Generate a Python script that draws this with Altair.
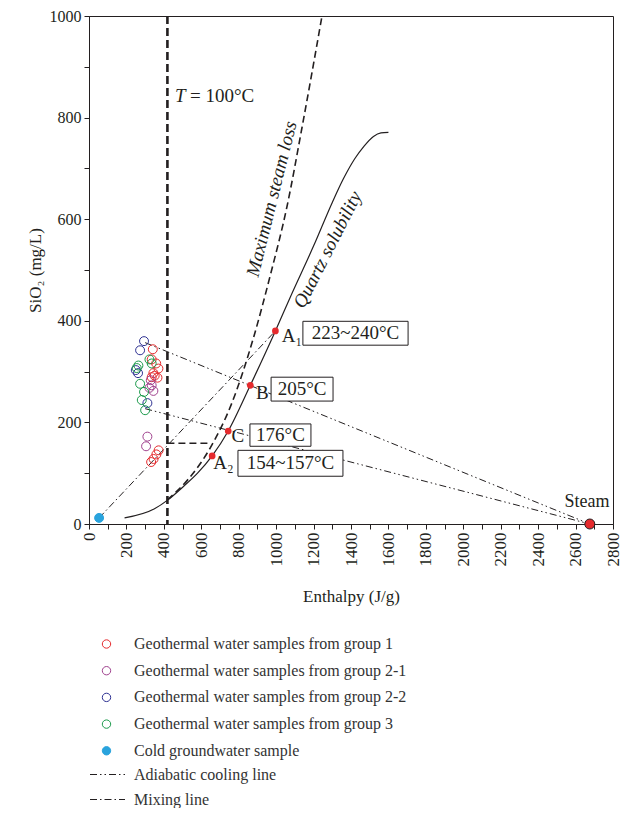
import altair as alt
import pandas as pd

SERIF = "Liberation Serif"
INK = "#231f20"

# ---------------- data ----------------
groups = [
    "Geothermal water samples from group 1",
    "Geothermal water samples from group 2-1",
    "Geothermal water samples from group 2-2",
    "Geothermal water samples from group 3",
    "Cold groundwater sample",
]
stroke_colors = ["#e52a2d", "#a0428e", "#2e3192", "#1b9a4b", "#29a3dd"]
fill_colors = ["transparent", "transparent", "transparent", "transparent", "#29a3dd"]

g1_H = [341, 335, 359, 371, 344, 366, 335, 351, 372, 360, 345, 332]
g1_S = [344, 324, 316, 306, 297, 288, 289, 292, 145, 137, 128, 122]
g21_H = [335, 344, 323, 330, 312, 305]
g21_S = [273, 262, 268, 283, 172, 153]
g22_H = [294, 273, 250, 262, 312]
g22_S = [360, 342, 303, 297, 238]
g3_H = [323, 264, 255, 273, 294, 282, 300, 335]
g3_S = [324, 312, 307, 276, 260, 244, 224, 316]
cold_H = [54]
cold_S = [12]

# quartz solubility curve
quartz_H = [190, 350, 420, 496, 580, 658, 744, 862, 996, 1076, 1201, 1300, 1360, 1420, 1470, 1520, 1560, 1600]
quartz_S = [12, 30, 47, 71, 100, 134, 183, 273, 380, 447, 548, 633, 680, 719, 744, 763, 770, 771]

# maximum steam loss curve
msl_H = [419, 530, 648, 760, 880, 969, 1058, 1138, 1245]
msl_S = [48, 88, 150, 235, 368, 490, 625, 780, 1000]

# horizontal dashed line at T = 100 °C
hdash_H = [419, 650]
hdash_S = [159, 159]

# mixing / adiabatic cooling lines
seg_id = ["m", "m", "a1", "a1", "a2", "a2"]
seg_kind = ["Mixing line", "Mixing line",
            "Adiabatic cooling line", "Adiabatic cooling line",
            "Adiabatic cooling line", "Adiabatic cooling line"]
seg_H = [54, 996, 300, 2676, 300, 2676]
seg_S = [12, 380, 357, 0, 227, 0]

# intersection points
key_H = [996, 862, 744, 658]
key_S = [380, 273, 183, 134]
key_lab = ["A₁", "B", "C", "A₂"]
keylab_H = [1030, 892, 762, 664]
keylab_S = [371, 258, 174, 120]

# temperature boxes
box_text = ["223~240°C", "205°C", "176°C", "154~157°C"]
box_H0 = [1143, 973, 860, 796]
box_H1 = [1705, 1304, 1186, 1357]
box_S0 = [352, 242, 153, 94]
box_S1 = [399, 289, 197, 145]

steam_H = [2676]
steam_S = [0]
T100 = [419]

# ---------------- frames ----------------
samples = pd.DataFrame({
    "H": g1_H + g21_H + g22_H + g3_H + cold_H,
    "S": g1_S + g21_S + g22_S + g3_S + cold_S,
    "group": [groups[0]] * len(g1_H) + [groups[1]] * len(g21_H) + [groups[2]] * len(g22_H)
             + [groups[3]] * len(g3_H) + [groups[4]] * len(cold_H),
})
quartz = pd.DataFrame({"H": quartz_H, "S": quartz_S, "o": range(len(quartz_H))})
msl = pd.DataFrame({"H": msl_H, "S": msl_S, "o": range(len(msl_H))})
hdash = pd.DataFrame({"H": hdash_H, "S": hdash_S})
segs = pd.DataFrame({"H": seg_H, "S": seg_S, "seg": seg_id, "kind": seg_kind})
keys = pd.DataFrame({"H": key_H, "S": key_S})
keylabs = pd.DataFrame({"H": keylab_H, "S": keylab_S, "t": key_lab})
boxes = pd.DataFrame({"H": box_H0, "H2": box_H1, "S": box_S0, "S2": box_S1, "t": box_text})
boxes["Hc"] = (boxes["H"] + boxes["H2"]) / 2
boxes["Sc"] = (boxes["S"] + boxes["S2"]) / 2
steam = pd.DataFrame({"H": steam_H, "S": steam_S})
tline = pd.DataFrame({"H": T100})

xscale = alt.Scale(domain=[0, 2800], nice=False, zero=False)
yscale = alt.Scale(domain=[0, 1000], nice=False, zero=False)
xaxis = alt.Axis(
    title="Enthalpy (J/g)", values=list(range(0, 2801, 100)),
    labelExpr="datum.value % 200 == 0 ? datum.label : ''", format="d",
    labelAngle=270, labelFlush=False, labelOverlap=False, grid=False,
    tickSize=5, labelPadding=3, titlePadding=22,
)
yaxis = alt.Axis(
    title="SiO₂ (mg/L)", values=list(range(0, 1001, 100)),
    labelExpr="datum.value % 200 == 0 ? datum.label : ''", format="d",
    labelFlush=False, labelOverlap=False, grid=False, labelFontSize=16,
    tickSize=5, labelPadding=3, titlePadding=5,
)
X = alt.X("H:Q", scale=xscale, axis=xaxis)
Y = alt.Y("S:Q", scale=yscale, axis=yaxis)

base_quartz = alt.Chart(quartz).mark_line(color=INK, strokeWidth=1.2, interpolate="monotone").encode(
    x=X, y=Y, order="o:Q")
base_msl = alt.Chart(msl).mark_line(color=INK, strokeWidth=1.6, strokeDash=[7, 4], interpolate="monotone").encode(
    x=X, y=Y, order="o:Q")
base_hdash = alt.Chart(hdash).mark_line(color=INK, strokeWidth=1.4, strokeDash=[7, 4]).encode(x=X, y=Y)
t_rule = alt.Chart(tline).mark_rule(color=INK, strokeWidth=2.6, strokeDash=[8, 4]).encode(x=X)

seg_layer = alt.Chart(segs).mark_line(color=INK, strokeWidth=1).encode(
    x=X, y=Y, detail="seg:N",
    strokeDash=alt.StrokeDash(
        "kind:N",
        scale=alt.Scale(domain=["Adiabatic cooling line", "Mixing line"],
                        range=[[7, 3, 1.5, 3, 1.5, 3], [7, 3, 1.5, 3]]),
        legend=alt.Legend(orient="none", legendX=0.5, legendY=750.5, title=None,
                          labelFont=SERIF, labelFontSize=16, labelColor="#333333",
                          labelLimit=600, symbolSize=1225, symbolStrokeWidth=1,
                          symbolStrokeColor=INK, symbolType="stroke",
                          rowPadding=9, clipHeight=16, labelOffset=8.5),
    ),
)

box_layer = alt.Chart(boxes).mark_rect(fill="white", stroke=INK, strokeWidth=1).encode(
    x=X, x2="H2:Q", y=Y, y2="S2:Q")
box_text_layer = alt.Chart(boxes).mark_text(font=SERIF, fontSize=19, color=INK, align="center",
                                            baseline="middle").encode(
    x=alt.X("Hc:Q", scale=xscale, axis=xaxis), y=alt.Y("Sc:Q", scale=yscale, axis=yaxis), text="t:N")

keylab_layer = alt.Chart(keylabs).mark_text(font=SERIF, fontSize=19, color=INK, align="left",
                                            baseline="middle").encode(x=X, y=Y, text="t:N")

leg_props = dict(orient="none", legendX=9.5, legendY=620, title=None,
                 labelFont=SERIF, labelFontSize=16, labelColor="#333333", labelLimit=600,
                 symbolSize=70, symbolStrokeWidth=1, rowPadding=10.7, clipHeight=16,
                 labelOffset=19.5)
pts = alt.Chart(samples).mark_point(shape="circle", size=80, strokeWidth=1, opacity=1).encode(
    x=X, y=Y,
    stroke=alt.Stroke("group:N", scale=alt.Scale(domain=groups, range=stroke_colors),
                      legend=alt.Legend(**leg_props)),
    fill=alt.Fill("group:N", scale=alt.Scale(domain=groups, range=fill_colors),
                  legend=alt.Legend(**leg_props)),
)

key_pts = alt.Chart(keys).mark_circle(size=45, color="#e52a2d", opacity=1).encode(x=X, y=Y)
steam_pt = alt.Chart(steam).mark_point(shape="circle", size=100, filled=True, fill="#e52a2d",
                                       stroke=INK, strokeWidth=1, opacity=1).encode(x=X, y=Y)

# free text annotations
ann = pd.DataFrame({
    "H": [460, 540, 2661],
    "S": [843, 843, 43],
    "t": ["T", "= 100°C", "Steam"],
})
ann_T = alt.Chart(ann.iloc[[0]]).mark_text(font=SERIF, fontSize=19, fontStyle="italic", color=INK,
                                           align="left", baseline="middle").encode(x=X, y=Y, text="t:N")
ann_eq = alt.Chart(ann.iloc[[1]]).mark_text(font=SERIF, fontSize=19, color=INK,
                                            align="left", baseline="middle").encode(x=X, y=Y, text="t:N")
ann_steam = alt.Chart(ann.iloc[[2]]).mark_text(font=SERIF, fontSize=18, color=INK,
                                               align="center", baseline="middle").encode(x=X, y=Y, text="t:N")

rot = pd.DataFrame({"H": [976, 1275], "S": [640, 540], "t": ["Maximum steam loss", "Quartz solubility"]})
rot1 = alt.Chart(rot.iloc[[0]]).mark_text(font=SERIF, fontSize=19, fontStyle="italic", color=INK,
                                          angle=284, align="center", baseline="middle").encode(x=X, y=Y, text="t:N")
rot2 = alt.Chart(rot.iloc[[1]]).mark_text(font=SERIF, fontSize=19, fontStyle="italic", color=INK,
                                          angle=297, align="center", baseline="middle").encode(x=X, y=Y, text="t:N")

chart = alt.layer(
    base_quartz, base_msl, base_hdash, t_rule, seg_layer,
    box_layer, box_text_layer, keylab_layer,
    ann_T, ann_eq, ann_steam, rot1, rot2,
    pts, key_pts, steam_pt,
).properties(
    width=524, height=508,
    autosize=alt.AutoSizeParams(type="none"),
    padding={"left": 81, "top": 8, "right": 14, "bottom": 284},
).configure(
    background="white"
).configure_view(
    stroke=INK, strokeWidth=1
).configure_axis(
    labelFont=SERIF, labelFontSize=17, labelColor=INK,
    titleFont=SERIF, titleFontSize=17, titleFontWeight="normal", titleColor=INK,
    domainColor=INK, tickColor=INK, domainWidth=1, tickWidth=1,
)

chart.save("out.html", embed_options={"renderer": "svg", "actions": False})
